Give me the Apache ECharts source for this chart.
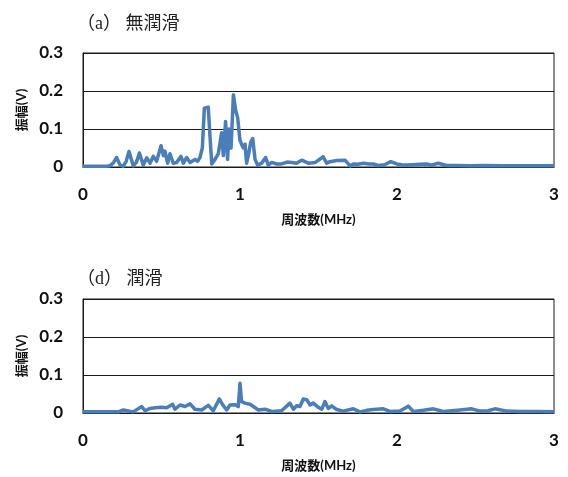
<!DOCTYPE html>
<html>
<head>
<meta charset="utf-8">
<script src="https://cdn.jsdelivr.net/npm/echarts@6/dist/echarts.min.js"></script>
<style>
html,body{margin:0;padding:0;background:#fff;}
#chart{width:568px;height:477px;}
</style>
</head>
<body>
<div id="chart"></div>
<script>
// Panel titles
var titleA = '（a） 無潤滑';
var titleD = '（d） 潤滑';
var xAxisName = '周波数(MHz)';
var yAxisName = '振幅(V)';

// (a) unlubricated spectrum: frequency (MHz) and amplitude (V)
var freqA = [0,0.05,0.10,0.15,0.172,0.195,0.214,0.236,0.257,0.275,0.293,0.32,0.34,0.359,0.384,0.406,0.427,0.448,0.469,0.497,0.512,0.522,0.539,0.554,0.575,0.596,0.624,0.639,0.66,0.682,0.713,0.73,0.745,0.76,0.773,0.798,0.809,0.82,0.841,0.862,0.883,0.894,0.908,0.921,0.93,0.943,0.958,0.972,0.985,1.0,1.01,1.021,1.032,1.042,1.053,1.068,1.081,1.096,1.112,1.138,1.163,1.18,1.202,1.235,1.265,1.30,1.329,1.36,1.393,1.435,1.48,1.53,1.552,1.573,1.616,1.669,1.701,1.722,1.75,1.786,1.82,1.849,1.881,1.92,1.96,1.998,2.03,2.062,2.1,2.146,2.189,2.22,2.263,2.316,2.38,2.465,2.55,2.677,2.8,2.9,3.0];
var ampA = [0.002,0.002,0.002,0.002,0.003,0.012,0.025,0.005,0.002,0.015,0.041,0.003,0.012,0.037,0.005,0.024,0.01,0.028,0.015,0.056,0.03,0.042,0.01,0.035,0.01,0.012,0.028,0.01,0.025,0.012,0.02,0.015,0.025,0.05,0.155,0.157,0.08,0.008,0.02,0.035,0.09,0.03,0.12,0.02,0.1,0.05,0.19,0.15,0.13,0.07,0.06,0.05,0.06,0.01,0.03,0.065,0.075,0.02,0.005,0.01,0.025,0.005,0.012,0.008,0.008,0.013,0.012,0.01,0.018,0.01,0.012,0.027,0.01,0.014,0.017,0.018,0.003,0.008,0.007,0.01,0.008,0.008,0.004,0.006,0.014,0.008,0.006,0.005,0.006,0.007,0.008,0.005,0.01,0.004,0.004,0.003,0.004,0.003,0.003,0.003,0.003];

// (d) lubricated spectrum: frequency (MHz) and amplitude (V)
var freqD = [0,0.1,0.225,0.257,0.32,0.374,0.395,0.427,0.459,0.501,0.533,0.571,0.586,0.618,0.65,0.682,0.713,0.756,0.798,0.83,0.868,0.894,0.915,0.936,0.968,0.989,1.0,1.01,1.032,1.064,1.085,1.117,1.159,1.202,1.265,1.318,1.34,1.361,1.382,1.403,1.425,1.446,1.467,1.499,1.521,1.541,1.563,1.584,1.616,1.658,1.722,1.764,1.807,1.849,1.913,1.955,2.019,2.072,2.104,2.168,2.232,2.295,2.35,2.401,2.476,2.529,2.58,2.624,2.699,2.784,2.89,3.0];
var ampD = [0.003,0.003,0.003,0.008,0.003,0.017,0.006,0.012,0.014,0.015,0.014,0.023,0.01,0.021,0.017,0.024,0.01,0.008,0.02,0.006,0.037,0.019,0.008,0.021,0.022,0.017,0.078,0.03,0.026,0.023,0.017,0.008,0.01,0.004,0.006,0.026,0.01,0.019,0.017,0.037,0.035,0.021,0.026,0.015,0.01,0.03,0.012,0.019,0.009,0.005,0.011,0.003,0.007,0.009,0.011,0.004,0.005,0.018,0.004,0.007,0.011,0.004,0.006,0.008,0.011,0.005,0.006,0.011,0.005,0.004,0.004,0.003];

// Axis ranges/ticks
var xMin = 0, xMax = 3, xStep = 1;
var yMin = 0, yMax = 0.3, yStep = 0.1;

function pairs(xs, ys){ return xs.map(function(x,i){ return [x, ys[i]]; }); }

var latin = "Lato, 'Noto Sans CJK JP', sans-serif";
var serif = "'Liberation Serif', 'Noto Sans CJK JP', serif";
var lineColor = '#4a7ebb';
var gridColor = '#1a1a1a';

function xAxis(idx){
  return {
    gridIndex: idx, type: 'value', min: xMin, max: xMax, interval: xStep,
    axisLine: {show: true, lineStyle: {color: gridColor, width: 1}},
    axisTick: {show: false},
    splitLine: {show: false},
    axisLabel: {color: '#111', fontFamily: latin, fontWeight: 'bold', fontSize: 17, margin: 19},
    name: xAxisName, nameLocation: 'middle', nameGap: 46,
    nameTextStyle: {color: '#111', fontFamily: latin, fontWeight: 'bold', fontSize: 13}
  };
}
function yAxis(idx){
  return {
    gridIndex: idx, type: 'value', min: yMin, max: yMax, interval: yStep,
    axisLine: {show: true, lineStyle: {color: gridColor, width: 1}},
    axisTick: {show: false},
    splitLine: {show: true, lineStyle: {color: gridColor, width: 1}},
    axisLabel: {color: '#111', fontFamily: latin, fontWeight: 'bold', fontSize: 17, margin: 20},
    name: yAxisName, nameLocation: 'middle', nameGap: 54, nameRotate: 90,
    nameTextStyle: {color: '#111', fontFamily: latin, fontWeight: 'bold', fontSize: 13}
  };
}
function series(idx, xs, ys){
  return {
    type: 'line', xAxisIndex: idx, yAxisIndex: idx, data: pairs(xs, ys),
    showSymbol: false, symbol: 'none', animation: false,
    lineStyle: {color: lineColor, width: 3.5, join: 'round'},
    itemStyle: {color: lineColor}, z: 3
  };
}

var chart = echarts.init(document.getElementById('chart'), null, {renderer: 'canvas'});
chart.setOption({
  animation: false,
  backgroundColor: '#fff',
  title: [
    {text: titleA, left: 72, top: 10, textStyle: {fontFamily: serif, fontSize: 18, fontWeight: 'normal', color: '#222'}},
    {text: titleD, left: 72, top: 265, textStyle: {fontFamily: serif, fontSize: 18, fontWeight: 'normal', color: '#222'}}
  ],
  grid: [
    {left: 83, top: 53, width: 471, height: 114, show: true, borderColor: gridColor, borderWidth: 1, backgroundColor: 'transparent'},
    {left: 83, top: 299, width: 471, height: 114, show: true, borderColor: gridColor, borderWidth: 1, backgroundColor: 'transparent'}
  ],
  xAxis: [xAxis(0), xAxis(1)],
  yAxis: [yAxis(0), yAxis(1)],
  series: [series(0, freqA, ampA), series(1, freqD, ampD)]
});
</script>
</body>
</html>
